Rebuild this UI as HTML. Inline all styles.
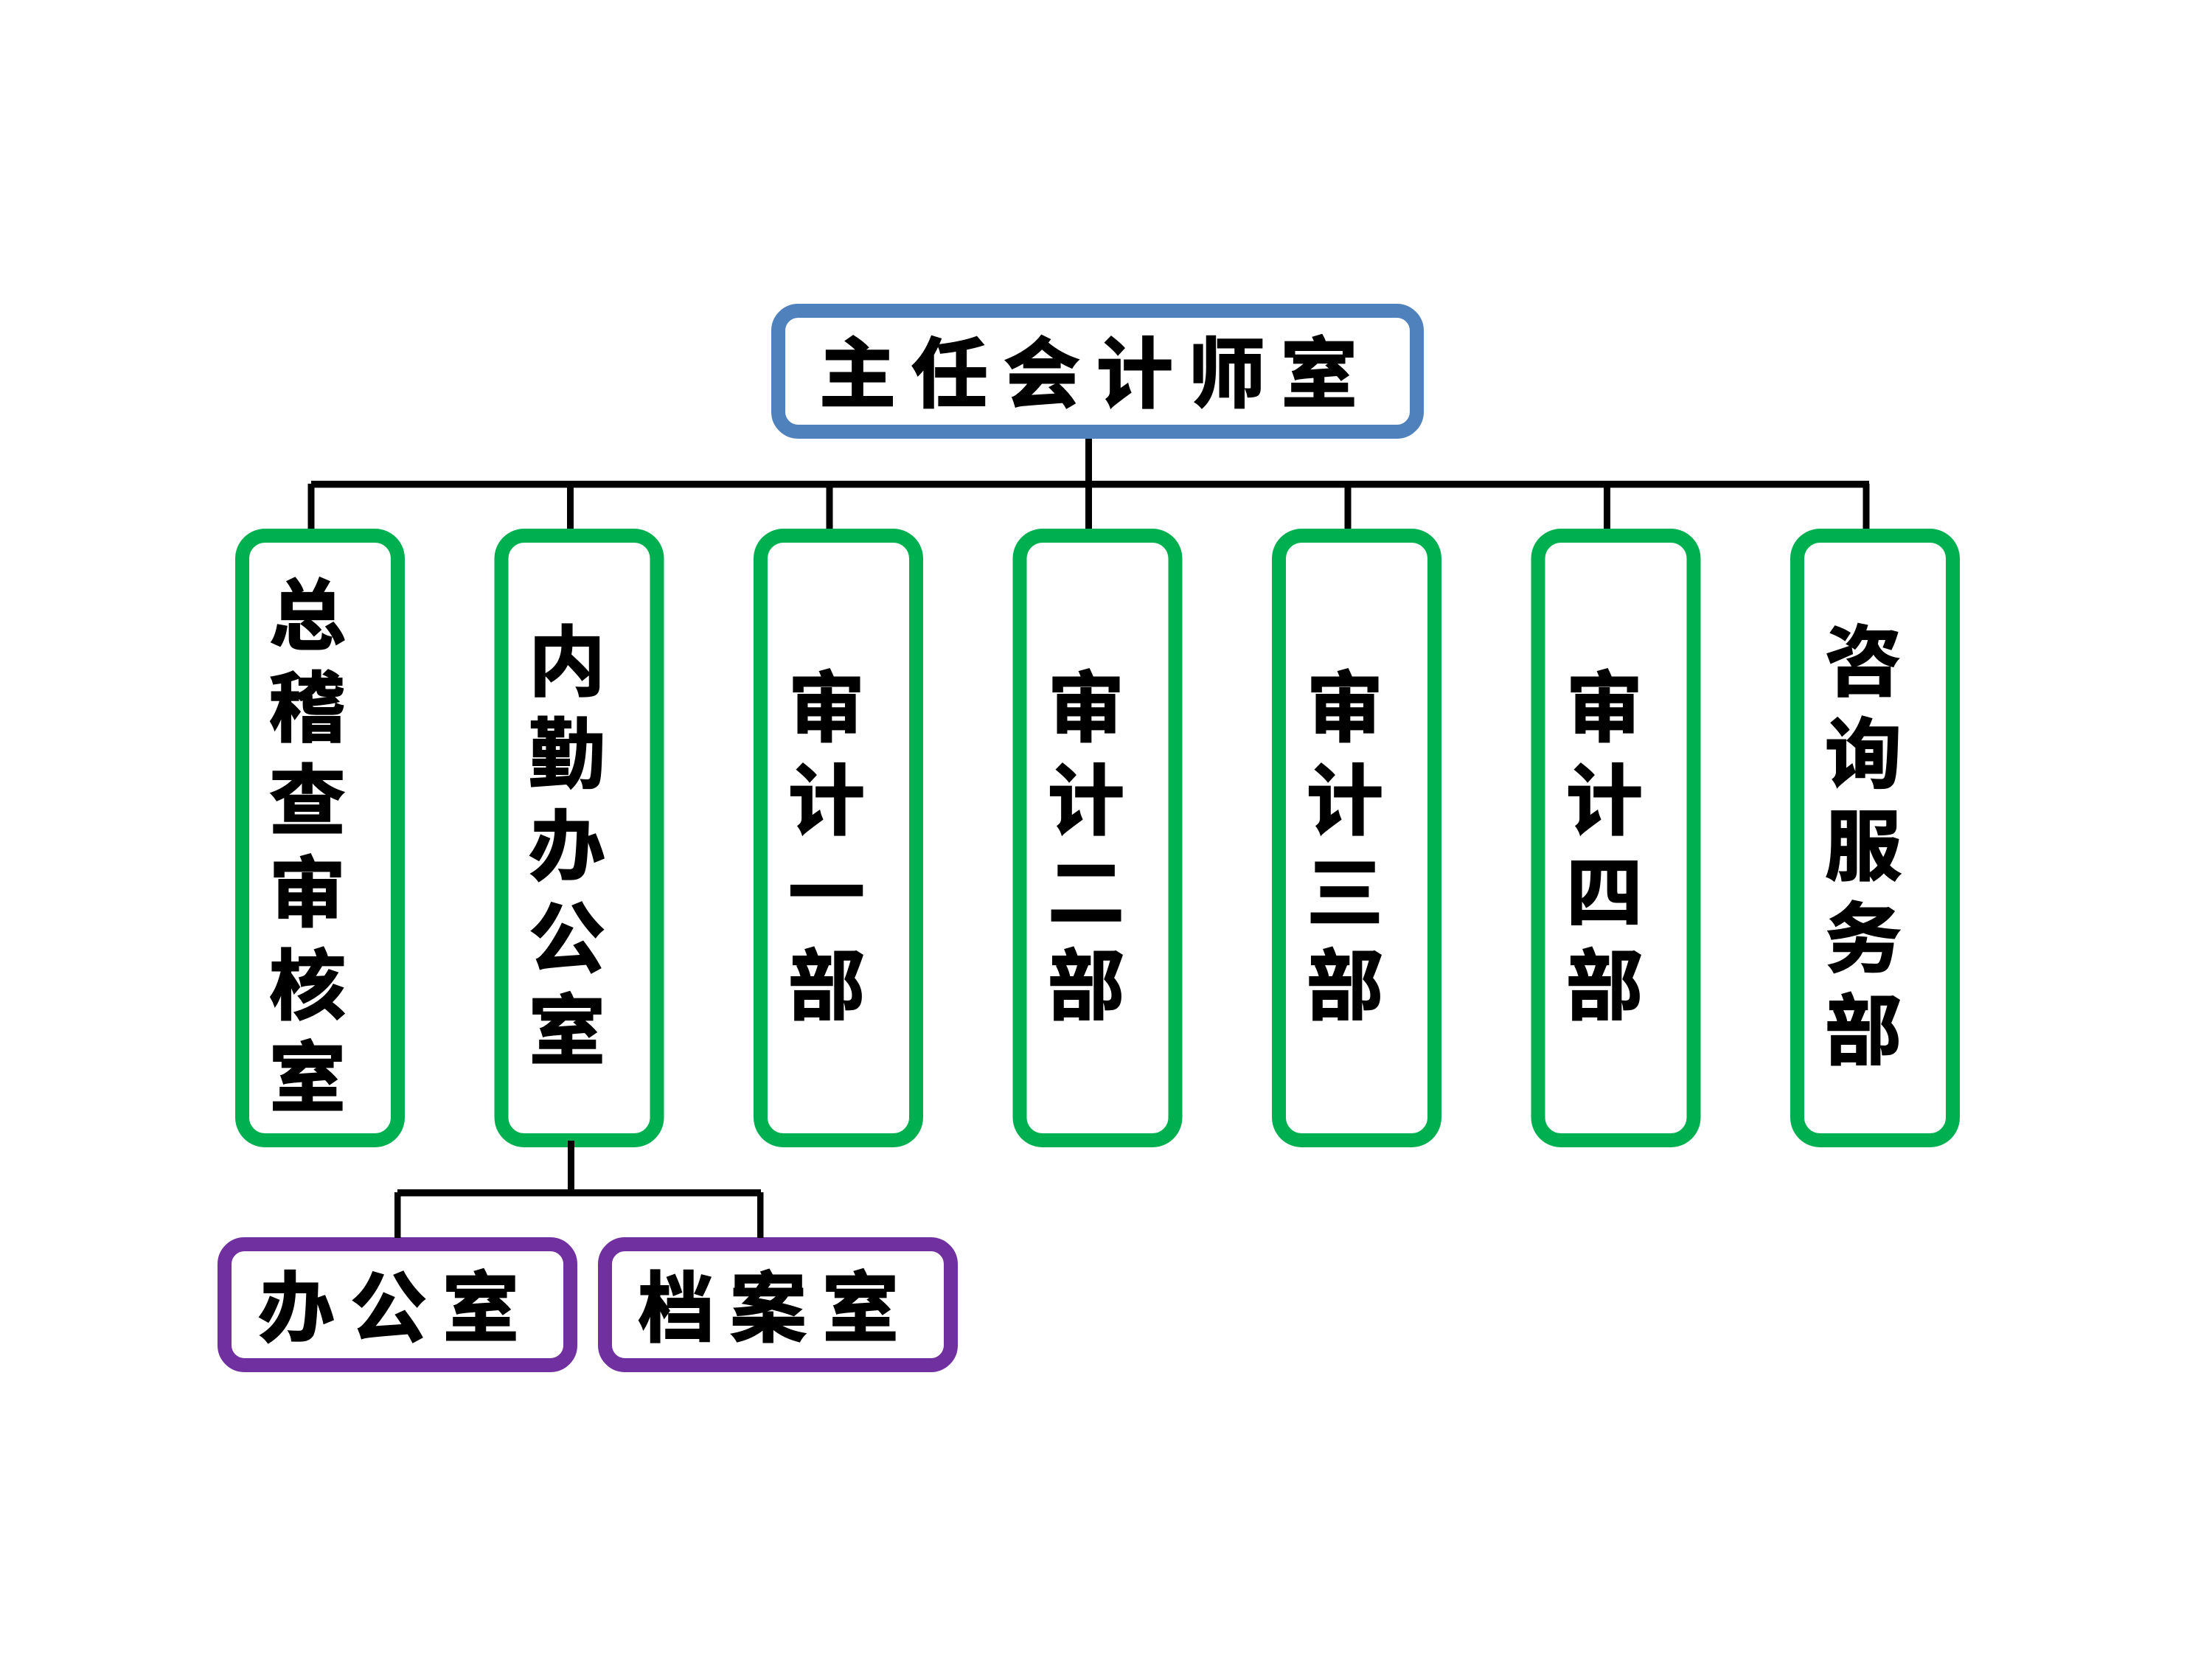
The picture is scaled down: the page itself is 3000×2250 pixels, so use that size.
<!DOCTYPE html>
<html lang="zh">
<head>
<meta charset="utf-8">
<style>
html,body{margin:0;padding:0;background:#fff;width:3000px;height:2250px;overflow:hidden}
svg{display:block}
text{font-family:"Liberation Sans","Noto Sans CJK SC",sans-serif;font-weight:700;font-size:104px;text-anchor:middle;fill:#000;stroke:#000;stroke-width:2px}
</style>
</head>
<body>
<svg width="3000" height="2250" viewBox="0 0 3000 2250" xmlns="http://www.w3.org/2000/svg">
<rect width="3000" height="2250" fill="#fff"/>
<g fill="#000">
<rect x="1472" y="590" width="9" height="130"/>
<rect x="422" y="652" width="2113" height="9.5"/>
<rect x="417.500" y="656" width="9" height="64"/>
<rect x="769" y="656" width="9" height="64"/>
<rect x="1120.500" y="656" width="9" height="64"/>
<rect x="1823.500" y="656" width="9" height="64"/>
<rect x="2175" y="656" width="9" height="64"/>
<rect x="2526.500" y="656" width="9" height="64"/>
</g>
<g fill="#fff" stroke-width="19" stroke="#00b050">
<rect x="328.500" y="726.500" width="211" height="820" rx="31"/>
<rect x="680" y="726.500" width="211" height="820" rx="31"/>
<rect x="1031.500" y="726.500" width="211" height="820" rx="31"/>
<rect x="1383" y="726.500" width="211" height="820" rx="31"/>
<rect x="1734.500" y="726.500" width="211" height="820" rx="31"/>
<rect x="2086" y="726.500" width="211" height="820" rx="31"/>
<rect x="2437.500" y="726.500" width="211" height="820" rx="31"/>
</g>
<rect x="1055.500" y="421.500" width="866" height="164" rx="27" fill="#fff" stroke="#4f81bd" stroke-width="19"/>
<g fill="#fff" stroke="#7030a0" stroke-width="19">
<rect x="304.500" y="1687.500" width="469" height="164" rx="27"/>
<rect x="820.500" y="1687.500" width="469" height="164" rx="27"/>
</g>
<g fill="#000">
<rect x="770" y="1547" width="9" height="70"/>
<rect x="539" y="1613" width="493" height="9.500"/>
<rect x="535" y="1617" width="8.500" height="62"/>
<rect x="1027" y="1617" width="8.500" height="62"/>
</g>
<g>
<text x="1163" y="544">主</text><text x="1288" y="544">任</text><text x="1413" y="544">会</text><text x="1539" y="544">计</text><text x="1664" y="544">师</text><text x="1789" y="544">室</text>

<text x="417" y="872">总</text><text x="417" y="997">稽</text><text x="417" y="1123">查</text><text x="417" y="1248">审</text><text x="417" y="1374">核</text><text x="417" y="1499">室</text>

<text x="769" y="935">内</text><text x="769" y="1060">勤</text><text x="769" y="1185">办</text><text x="769" y="1310">公</text><text x="769" y="1435">室</text>

<text x="1121" y="997">审</text><text x="1121" y="1123">计</text><text x="1121" y="1248">一</text><text x="1121" y="1374">部</text>

<text x="1473" y="997">审</text><text x="1473" y="1123">计</text><text x="1473" y="1248">二</text><text x="1473" y="1374">部</text>

<text x="1824" y="997">审</text><text x="1824" y="1123">计</text><text x="1824" y="1248">三</text><text x="1824" y="1374">部</text>

<text x="2176" y="997">审</text><text x="2176" y="1123">计</text><text x="2176" y="1248">四</text><text x="2176" y="1374">部</text>

<text x="2527" y="935">咨</text><text x="2527" y="1060">询</text><text x="2527" y="1185">服</text><text x="2527" y="1310">务</text><text x="2527" y="1435">部</text>

<text x="402" y="1811">办</text><text x="527" y="1811">公</text><text x="652" y="1811">室</text>
<text x="917" y="1811">档</text><text x="1042" y="1811">案</text><text x="1167" y="1811">室</text>
</g>
</svg>
</body>
</html>
